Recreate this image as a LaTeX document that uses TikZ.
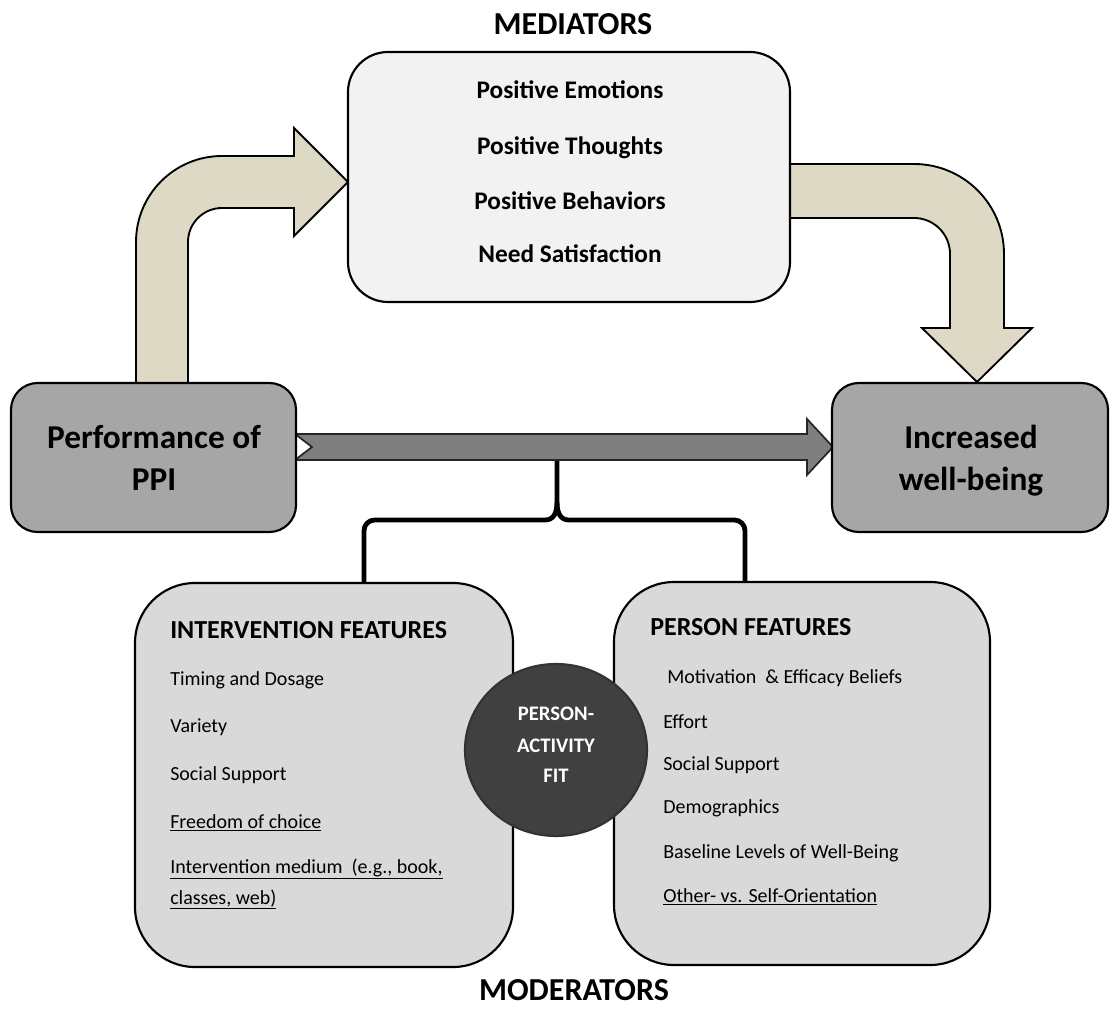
\documentclass[tikz,border=0pt]{standalone}
\usepackage{fontspec}
\setmainfont{Carlito}
\usetikzlibrary{shapes.geometric}
\definecolor{arrowtan}{HTML}{DDD9C4}
\definecolor{medfill}{HTML}{F2F2F2}
\definecolor{endfill}{HTML}{A6A6A6}
\definecolor{midfill}{HTML}{7F7F7F}
\definecolor{modfill}{HTML}{D9D9D9}
\definecolor{fitfill}{HTML}{404040}
\begin{document}
\begin{tikzpicture}[x=0.75pt,y=-0.75pt,
  fatarrow/.style={fill=arrowtan, draw=black, line width=1.4pt, line join=miter},
  midarrow/.style={fill=midfill, draw=black!85, line width=1.3pt, line join=miter},
  boxbase/.style={draw=black, line width=1.6pt, inner sep=0pt, outer sep=0pt, rectangle},
  itemtxt/.style={anchor=base west, font=\fontsize{15}{18}\selectfont, inner sep=0pt},
  ulitem/.style={anchor=base west, font=\fontsize{15}{18}\selectfont, inner sep=0pt},
  headtxt/.style={anchor=base west, font=\fontsize{19.5}{23}\selectfont\bfseries, inner sep=0pt},
  medtxt/.style={anchor=base, font=\fontsize{19}{23}\selectfont\bfseries, inner sep=0pt},
  bigtxt/.style={anchor=base, font=\fontsize{25}{30}\selectfont\bfseries, inner sep=0pt},
  titletxt/.style={anchor=base, font=\fontsize{24}{28}\selectfont\bfseries, inner sep=0pt},
  fittxt/.style={anchor=base, font=\fontsize{15.5}{18}\selectfont\bfseries, text=white, inner sep=0pt},
  bracketline/.style={draw=black, line width=3.6pt, rounded corners=8pt}
]
\useasboundingbox (0,0) rectangle (1111,1009);

% bracket under the direct arrow
\coordinate (bstem) at (557,460);
\coordinate (bleft) at (364,584);
\coordinate (bright) at (745,583);
\draw[bracketline] (bleft) -- (364,520) -- (545,520);
\draw[draw=black, line width=3.6pt] (545,520) .. controls (553,520) and (557,514) .. (557,502) -- (bstem);
\draw[bracketline] (bright) -- (745,520) -- (569,520);
\draw[draw=black, line width=3.6pt] (569,520) .. controls (561,520) and (557,514) .. (557,502);

% bent arrow PPI -> mediators
\draw[fatarrow] (136,383) -- (136,242) arc (180:270:86) -- (294,156) -- (294,128)
  -- (348,182) -- (294,236) -- (294,208) -- (222,208) arc (270:180:34) -- (188,383) -- cycle;

% bent arrow mediators -> well-being
\draw[fatarrow] (790,164) -- (914,164) arc (270:360:90) -- (1004,328) -- (1032,328)
  -- (977,382) -- (922,328) -- (950,328) -- (950,254) arc (0:-90:36) -- (790,218) -- cycle;

% direct arrow
\draw[midarrow] (295,434) -- (807,434) -- (807,419) -- (833,447) -- (807,475)
  -- (807,460) -- (295,460) -- (312,447) -- cycle;

% titles
\node[titletxt] (medtitle) at (573,35) {MEDIATORS};
\node[titletxt] (modtitle) at (574,1000) {MODERATORS};

% mediators box
\node[boxbase, fill=medfill, rounded corners=30pt, minimum width=331.5pt, minimum height=187.5pt] (med) at (569,177) {};
\node[medtxt] (m1) at (570,99) {Positive Emotions};
\node[medtxt] (m2) at (570,155) {Positive Thoughts};
\node[medtxt] (m3) at (570,210) {Positive Behaviors};
\node[medtxt] (m4) at (570,263) {Need Satisfaction};

% PPI and well-being boxes
\node[boxbase, fill=endfill, rounded corners=20pt, minimum width=213.75pt, minimum height=111.75pt] (ppi) at (153.5,457.5) {};
\node[bigtxt] (ppi1) at (154,448) {Performance of};
\node[bigtxt] (ppi2) at (154,490) {PPI};
\node[boxbase, fill=endfill, rounded corners=20pt, minimum width=207pt, minimum height=111.75pt] (wb) at (970,457.5) {};
\node[bigtxt] (wb1) at (971,448) {Increased};
\node[bigtxt] (wb2) at (971,490) {well-being};

% intervention features
\node[boxbase, fill=modfill, rounded corners=45pt, minimum width=283.5pt, minimum height=288pt] (intv) at (324,775) {};
\node[headtxt] (ih) at (170,638) {INTERVENTION FEATURES};
\node[itemtxt] (i1) at (170,685) {Timing and Dosage};
\node[itemtxt] (i2) at (170,732) {Variety};
\node[itemtxt] (i3) at (170,780) {Social Support};
\node[ulitem] (i4) at (170,828) {\underline{Freedom of choice}};
\node[ulitem] (i5) at (170,873) {\underline{Intervention medium \ (e.g., book,}};
\node[ulitem] (i6) at (170,904) {\underline{classes, web)}};

% person features
\node[boxbase, fill=modfill, rounded corners=45pt, minimum width=282pt, minimum height=287.25pt] (pers) at (802,773.5) {};
\node[headtxt] (ph) at (650,635) {PERSON FEATURES};
\node[itemtxt] (p1) at (667,683) {Motivation \ \& Efficacy Beliefs};
\node[itemtxt] (p2) at (663,728) {Effort};
\node[itemtxt] (p3) at (663,770) {Social Support};
\node[itemtxt] (p4) at (663,813) {Demographics};
\node[itemtxt] (p5) at (663,858) {Baseline Levels of Well-Being};
\node[ulitem] (p6) at (663,902) {\underline{Other- vs. Self-Orientation}};

% person-activity fit
\node[ellipse, draw=black!80, line width=1.6pt, fill=fitfill, inner sep=0pt, minimum width=136.5pt, minimum height=129pt] (fit) at (556,750) {};
\node[fittxt] (f1) at (556,720) {PERSON-};
\node[fittxt] (f2) at (556,752) {ACTIVITY};
\node[fittxt] (f3) at (556,782) {FIT};
\end{tikzpicture}
\end{document}
